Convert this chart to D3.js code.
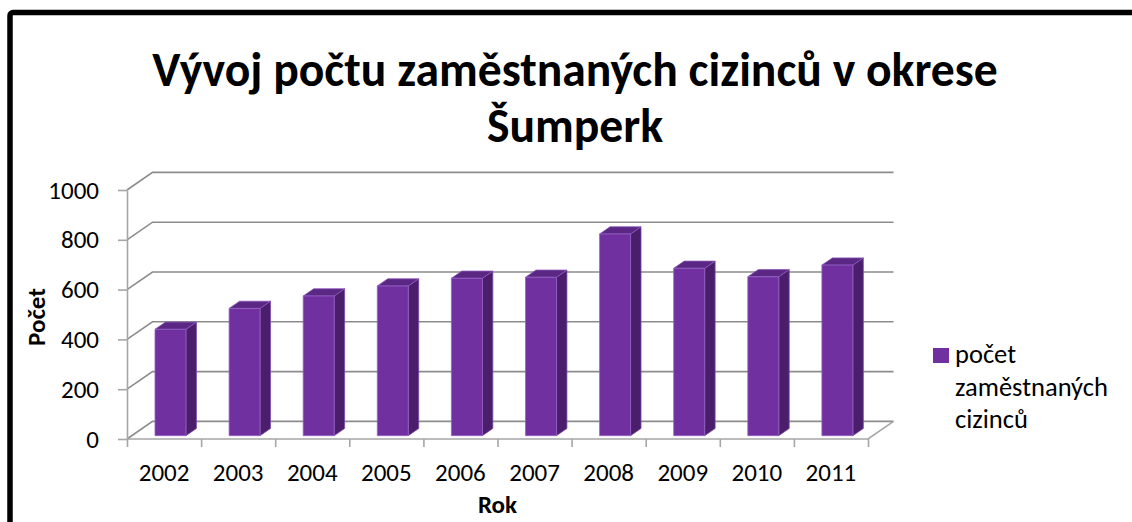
<!DOCTYPE html>
<html>
<head>
<meta charset="utf-8">
<script src="https://cdn.jsdelivr.net/npm/d3@7"></script>
<style>
  body { margin: 0; background: #fff; }
  text { font-family: Carlito, Calibri, Lato, sans-serif; fill: #000; }
</style>
</head>
<body>
<div id="chart"></div>
<script>
// Data
const years = ['2002', '2003', '2004', '2005', '2006', '2007', '2008', '2009', '2010', '2011'];
const counts = [427, 511, 561, 601, 632, 636, 810, 672, 638, 685];
const yTicks = [0, 200, 400, 600, 800, 1000];
const titleLines = ['Vývoj počtu zaměstnaných cizinců v okrese', 'Šumperk'];
const yTitle = 'Počet';
const xTitle = 'Rok';
const legendLines = ['počet', 'zaměstnaných', 'cizinců'];

const width = 1132, height = 522;
const plot = {left: 127, right: 868, top: 190, bottom: 439};
const depth = {dx: 25.5, dy: -17.6};   // full floor depth, projected
const barFront = 0.19, barBack = 0.6;  // depth fractions of the columns

const svg = d3.select('#chart')
  .append('svg')
    .attr('width', width)
    .attr('height', height);

// Chart frame (runs off the right and bottom edge)
svg.append('rect')
  .attr('x', 10)
  .attr('y', 12.5)
  .attr('width', 1300)
  .attr('height', 700)
  .attr('rx', 3)
  .attr('fill', 'none')
  .attr('stroke', '#000')
  .attr('stroke-width', 5.5);

// Scales
const x = d3.scaleBand()
  .domain(years)
  .range([plot.left, plot.right]);

const y = d3.scaleLinear()
  .domain([0, 1000])
  .range([plot.bottom, plot.top]);

const proj = (px, py, t) => [px + t * depth.dx, py + t * depth.dy];

// Gridlines on side wall and back wall
svg.append('g')
  .selectAll('polyline')
  .data(yTicks)
  .join('polyline')
    .attr('points', d => [
      [plot.left, y(d)],
      proj(plot.left, y(d), 1),
      proj(plot.right, y(d), 1)
    ].join(' '))
    .attr('fill', 'none')
    .attr('stroke', '#8c8c8c')
    .attr('stroke-width', 1.6);

// Floor front and right edges
svg.append('polyline')
  .attr('points', [
    [plot.left, y(0)],
    [plot.right, y(0)],
    proj(plot.right, y(0), 1)
  ].join(' '))
  .attr('fill', 'none')
  .attr('stroke', '#a6a6a6')
  .attr('stroke-width', 1.6);

// Y axis
const yAxis = svg.append('g')
  .attr('transform', `translate(${plot.left},0)`)
  .call(d3.axisLeft(y)
    .tickValues(yTicks)
    .tickFormat(d3.format('d'))
    .tickSize(9)
    .tickSizeOuter(0)
    .tickPadding(19));
yAxis.select('.domain').attr('stroke', '#a6a6a6').attr('stroke-width', 1.6);
yAxis.selectAll('.tick line').attr('stroke', '#a6a6a6').attr('stroke-width', 1.6);
yAxis.selectAll('.tick text')
  .style('font-size', '25px')
  .style('font-family', null)
  .attr('fill', '#000');

// X axis ticks sit on category boundaries
const xEdges = d3.scaleLinear().domain([0, years.length]).range([plot.left, plot.right]);
const xTickAxis = svg.append('g')
  .attr('transform', `translate(0,${plot.bottom})`)
  .call(d3.axisBottom(xEdges)
    .ticks(years.length)
    .tickSize(8)
    .tickSizeOuter(0)
    .tickFormat(''));
xTickAxis.select('.domain').remove();
xTickAxis.selectAll('.tick line').attr('stroke', '#a6a6a6').attr('stroke-width', 1.6);

// X labels
const xAxis = svg.append('g')
  .attr('transform', `translate(0,${plot.bottom})`)
  .call(d3.axisBottom(x).tickSize(0).tickPadding(24));
xAxis.select('.domain').remove();
xAxis.selectAll('.tick text')
  .style('font-size', '25px')
  .style('font-family', null)
  .attr('fill', '#000');

// 3D columns
const bw = x.bandwidth();
const bars = svg.append('g')
  .selectAll('g')
  .data(years.map((yr, i) => ({year: yr, value: counts[i]})))
  .join('g');

const corners = d => {
  const x0 = x(d.year) + bw * 0.3125;
  const x1 = x0 + bw * 0.418;
  const yt = y(d.value), yb = y(0);
  return {x0, x1, yt, yb};
};

// right side
bars.append('path')
  .attr('d', d => {
    const c = corners(d);
    return 'M' + [
      proj(c.x1, c.yb, barFront), proj(c.x1, c.yb, barBack),
      proj(c.x1, c.yt, barBack), proj(c.x1, c.yt, barFront)
    ].join('L') + 'Z';
  })
  .attr('fill', '#4a1e6a')
  .attr('stroke', '#7d4aab')
  .attr('stroke-width', 0.8);

// top
bars.append('path')
  .attr('d', d => {
    const c = corners(d);
    return 'M' + [
      proj(c.x0, c.yt, barFront), proj(c.x1, c.yt, barFront),
      proj(c.x1, c.yt, barBack), proj(c.x0, c.yt, barBack)
    ].join('L') + 'Z';
  })
  .attr('fill', '#5b2784')
  .attr('stroke', '#8a58b8')
  .attr('stroke-width', 0.8);

// front
bars.append('path')
  .attr('d', d => {
    const c = corners(d);
    return 'M' + [
      proj(c.x0, c.yb, barFront), proj(c.x1, c.yb, barFront),
      proj(c.x1, c.yt, barFront), proj(c.x0, c.yt, barFront)
    ].join('L') + 'Z';
  })
  .attr('fill', '#7030a0')
  .attr('stroke', '#9462c4')
  .attr('stroke-width', 0.8);

// Title
const title = svg.append('text')
  .attr('text-anchor', 'middle')
  .style('font-weight', 'bold')
  .style('font-size', '37px');
title.selectAll('tspan')
  .data(titleLines)
  .join('tspan')
    .attr('x', 575)
    .attr('y', (d, i) => 86 + i * 56)
    .text(d => d);
// fit the first line to the width seen in the picture
const firstLen = title.select('tspan').node().getComputedTextLength();
title.style('font-size', (37 * 846 / firstLen) + 'px');

// Axis titles
svg.append('text')
  .attr('transform', 'translate(45,317) rotate(-90)')
  .attr('text-anchor', 'middle')
  .style('font-weight', 'bold')
  .style('font-size', '25px')
  .text(yTitle);

svg.append('text')
  .attr('x', (plot.left + plot.right) / 2)
  .attr('y', 513)
  .attr('text-anchor', 'middle')
  .style('font-weight', 'bold')
  .style('font-size', '25px')
  .text(xTitle);

// Legend
svg.append('rect')
  .attr('x', 933)
  .attr('y', 348)
  .attr('width', 16)
  .attr('height', 15)
  .attr('fill', '#7030a0');

svg.append('text')
  .style('font-size', '26.5px')
  .selectAll('tspan')
  .data(legendLines)
  .join('tspan')
    .attr('x', 955)
    .attr('y', (d, i) => 363 + i * 32.5)
    .text(d => d);
</script>
</body>
</html>
